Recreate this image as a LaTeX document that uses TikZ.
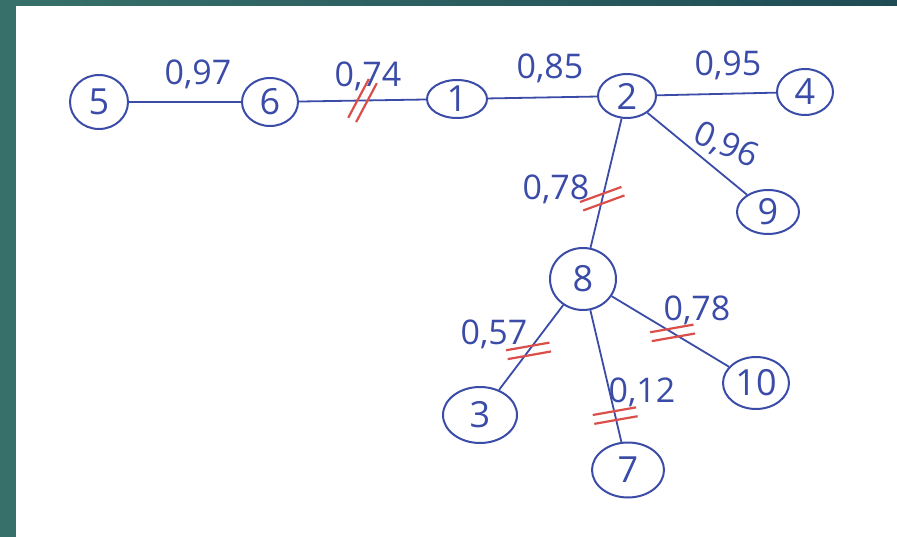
\documentclass[tikz,border=0pt]{standalone}
\usepackage{fontspec}
\setmainfont{Open Sans}
\usepackage{xcolor}
\usetikzlibrary{shapes.geometric}

\definecolor{ink}{HTML}{3A4BA8}
\definecolor{redink}{HTML}{DB4F4A}
\definecolor{slide}{HTML}{37706A}
\definecolor{slidedark}{HTML}{1F4B55}

\newcommand{\cutmark}[2]{%
  \begin{scope}[shift={(#1)}, rotate=#2]
    \draw[cutline] (-22,-4.5) -- (22,-4.5);
    \draw[cutline] (-22,4.5) -- (22,4.5);
  \end{scope}}

\begin{document}
\begin{tikzpicture}[x=1pt, y=-1pt,
    vertex/.style={ellipse, draw=ink, line width=2pt, minimum width=60pt, minimum height=46pt,
      inner sep=0pt, text=ink, font=\fontsize{36}{36}\selectfont},
    wlabel/.style={text=ink, inner sep=0pt, font=\fontsize{34}{34}\selectfont},
    link/.style={draw=ink, line width=1.8pt},
    cutline/.style={draw=redink, line width=2.2pt}]

    % Cornice
    \fill[slide] (0,0) rectangle (897,537);
    \shade[left color=slide, right color=slidedark] (0,0) rectangle (897,6);
    \fill[white] (16,6) rectangle (897,537);
    \useasboundingbox (0,0) rectangle (897,537);

    % Nodi
    \node[vertex, minimum width=58pt, minimum height=54pt] (n5) at (99,102) {5};
    \node[vertex, minimum width=56pt, minimum height=48pt] (n6) at (270,102) {6};
    \node[vertex, minimum height=38pt] (n1) at (457,99) {1};
    \node[vertex, minimum width=58pt, minimum height=44pt] (n2) at (627,96) {2};
    \node[vertex, minimum width=56pt] (n4) at (805,92) {4};
    \node[vertex, minimum width=62pt, minimum height=44pt] (n9) at (768,212) {9};
    \node[vertex, minimum width=66pt, minimum height=62pt] (n8) at (583,279) {8};
    \node[vertex, minimum width=74pt, minimum height=56pt] (n3) at (480,415) {3};
    \node[vertex, minimum width=72pt, minimum height=55pt] (n7) at (628,470) {7};
    \node[vertex, minimum width=66pt, minimum height=52pt] (n10) at (756,383) {10};

    % Archi
    \draw[link] (n5) -- (n6);
    \draw[link] (n6) -- coordinate[pos=.5] (c61) (n1);
    \draw[link] (n1) -- (n2);
    \draw[link] (n2) -- (n4);
    \draw[link] (n2) -- (n9);
    \draw[link] (n2) -- coordinate[pos=.62] (c28) (n8);
    \draw[link] (n8) -- coordinate[pos=.54] (c83) (n3);
    \draw[link] (n8) -- coordinate[pos=.8] (c87) (n7);
    \draw[link] (n8) -- coordinate[pos=.52] (c810) (n10);

    % Pesi
    \node[wlabel] (w56) at (198,74) {0,97};
    \node[wlabel] (w61) at (368,76) {0,74};
    \node[wlabel] (w12) at (550,68) {0,85};
    \node[wlabel] (w24) at (728,65) {0,95};
    \node[wlabel, rotate=-24] (w29) at (726,146) {0,96};
    \node[wlabel] (w28) at (556,189) {0,78};
    \node[wlabel] (w83) at (494,334) {0,57};
    \node[wlabel] (w87) at (642,392) {0,12};
    \node[wlabel] (w810) at (697,310) {0,78};

    % Tagli
    \cutmark{c61}{62}
    \cutmark{c28}{20}
    \cutmark{c83}{10}
    \cutmark{c87}{10}
    \cutmark{c810}{10}
\end{tikzpicture}
\end{document}
